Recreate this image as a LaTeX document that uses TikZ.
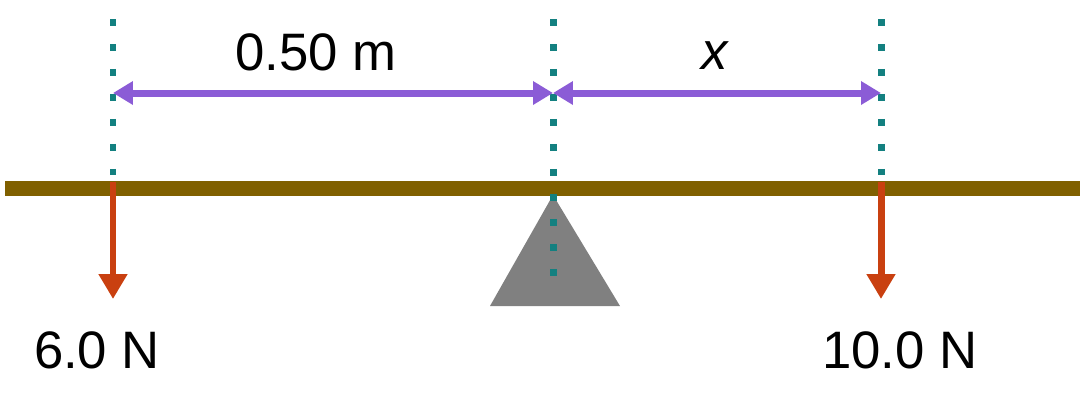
\documentclass[tikz,border=0pt]{standalone}
\usepackage{fontspec}
\setmainfont{Liberation Sans}
\usetikzlibrary{arrows.meta}
\definecolor{beam}{HTML}{806000}
\definecolor{teal2}{HTML}{138080}
\definecolor{force}{HTML}{C94010}
\definecolor{purp}{HTML}{8B5CD6}
\begin{document}
\begin{tikzpicture}[x=0.02cm,y=-0.02cm,
  guide/.style={teal2,line width=0.14cm,dash pattern=on 0.14cm off 0.36cm},
  forcearrow/.style={force,line width=0.14cm,-{Triangle[length=0.5cm,width=0.55cm]}},
  dim/.style={purp,line width=0.14cm,{Triangle[length=0.4cm,width=0.45cm]}-{Triangle[length=0.4cm,width=0.45cm]}},
  lbl/.style={font=\fontsize{30}{33}\selectfont,inner sep=0}]
\useasboundingbox (0,0) rectangle (1080,410);
\fill[gray] (553,195) -- (620,306) -- (490,306) -- cycle;
\fill[beam] (5,181) rectangle (1080,196);
\coordinate (l) at (113,93); \coordinate (c) at (553,93); \coordinate (r) at (881,93);
\draw[guide] (113,19) -- (113,175);
\draw[guide] (553,19) -- (553,290);
\draw[guide] (881,19) -- (881,175);
\coordinate (f1) at (113,182); \coordinate (f1e) at (113,299);
\coordinate (f2) at (881,182); \coordinate (f2e) at (881,299);
\draw[forcearrow] (f1) -- (f1e);
\draw[forcearrow] (f2) -- (f2e);
\draw[dim] (l) -- (c);
\draw[dim] (c) -- (r);
\node[lbl] (d1) at (316,52) {0.50 m};
\node[lbl] (d2) at (715,56) {\itshape x};
\node[lbl] (w1) at (97,350) {6.0 N};
\node[lbl] (w2) at (900,350) {10.0 N};
\end{tikzpicture}
\end{document}
